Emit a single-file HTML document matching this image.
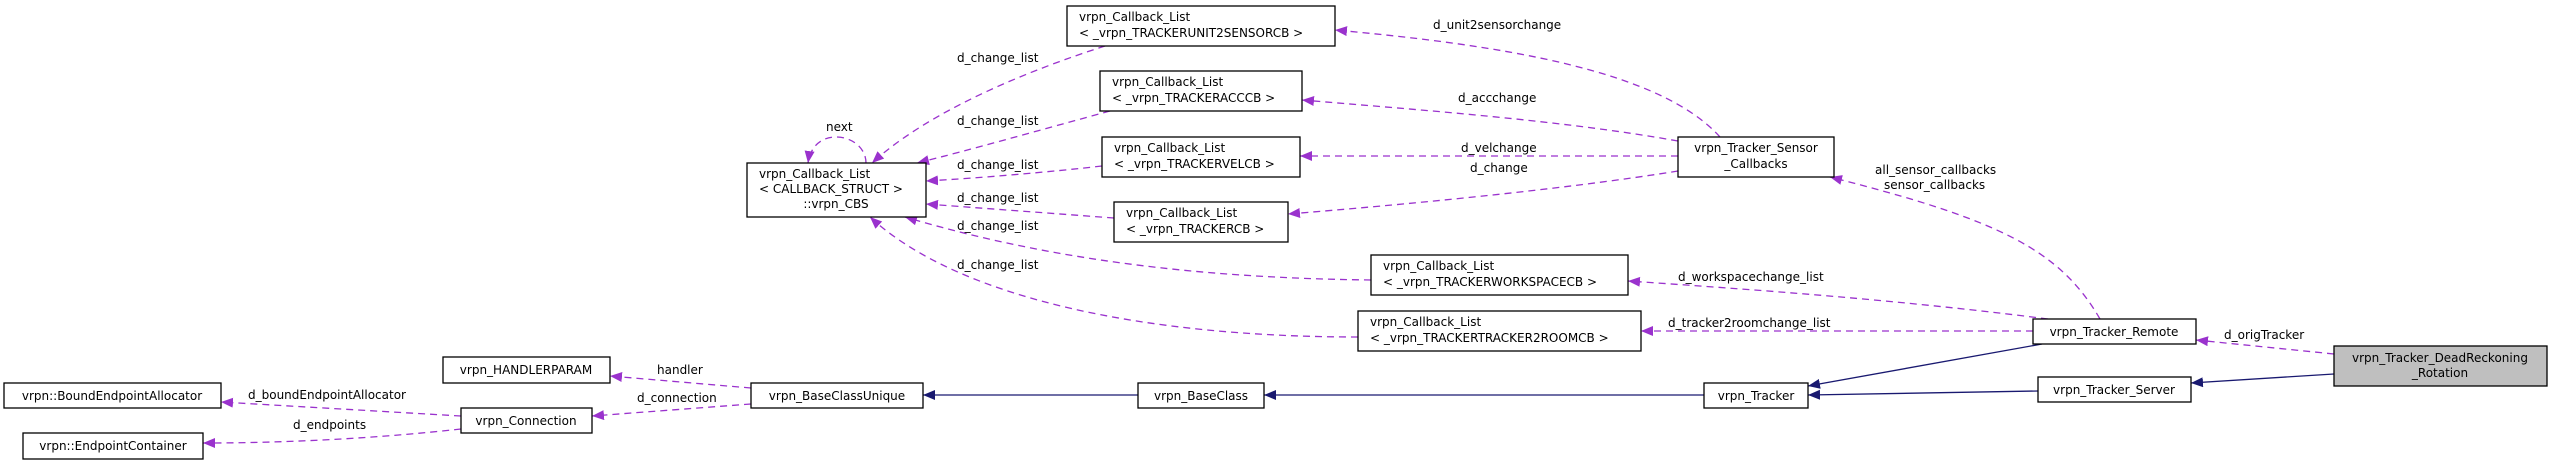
<!DOCTYPE html>
<html><head><meta charset="utf-8"><style>
html,body{margin:0;padding:0;background:#fff;}
svg{display:block;}
text{font-family:"DejaVu Sans","Liberation Sans",sans-serif;font-size:12px;fill:#000;}
.b{fill:#fff;stroke:#000;stroke-width:1.3;}
.p{fill:none;stroke:#9a32cd;stroke-width:1.3;stroke-dasharray:7,5;}
.n{fill:none;stroke:#191970;stroke-width:1.3;}
</style></head><body>
<svg width="2552" height="465" viewBox="0 0 2552 465" xmlns="http://www.w3.org/2000/svg">
<defs>
<marker id="ap" markerUnits="userSpaceOnUse" markerWidth="14" markerHeight="12" refX="12" refY="5" orient="auto"><path d="M0,0 L12,5 L0,10 z" fill="#9a32cd"/></marker>
<marker id="an" markerUnits="userSpaceOnUse" markerWidth="14" markerHeight="12" refX="12" refY="5" orient="auto"><path d="M0,0 L12,5 L0,10 z" fill="#191970"/></marker>
</defs>

<!-- edges purple -->
<path class="p" marker-end="url(#ap)" d="M866,163 C866,148 852,137 836,137 C820,137 810,148 808,163"/>
<text x="826" y="131">next</text>

<path class="p" marker-end="url(#ap)" d="M1105,46 C1030,70 930,110 872,163"/>
<text x="957" y="62">d_change_list</text>
<path class="p" marker-end="url(#ap)" d="M1110,111 C1040,130 970,150 917,163"/>
<text x="957" y="125">d_change_list</text>
<path class="p" marker-end="url(#ap)" d="M1102,166 C1050,172 980,178 926,181"/>
<text x="957" y="169">d_change_list</text>
<path class="p" marker-end="url(#ap)" d="M1114,218 C1060,214 980,208 926,204"/>
<text x="957" y="202">d_change_list</text>
<path class="p" marker-end="url(#ap)" d="M1371,280 C1200,278 1050,260 905,217"/>
<text x="957" y="230">d_change_list</text>
<path class="p" marker-end="url(#ap)" d="M1358,337 C1150,337 960,300 870,217"/>
<text x="957" y="269">d_change_list</text>

<path class="p" marker-end="url(#ap)" d="M1720,137 C1660,70 1500,45 1335,30"/>
<text x="1433" y="29">d_unit2sensorchange</text>
<path class="p" marker-end="url(#ap)" d="M1678,141 C1560,120 1420,110 1302,100"/>
<text x="1458" y="102">d_accchange</text>
<path class="p" marker-end="url(#ap)" d="M1678,156 L1300,156"/>
<text x="1461" y="152">d_velchange</text>
<path class="p" marker-end="url(#ap)" d="M1678,171 C1560,190 1400,205 1288,214"/>
<text x="1470" y="172">d_change</text>

<path class="p" marker-end="url(#ap)" d="M2100,319 C2060,250 2000,220 1830,177"/>
<text x="1875" y="174">all_sensor_callbacks</text>
<text x="1884" y="189">sensor_callbacks</text>
<path class="p" marker-end="url(#ap)" d="M2048,319 C1900,300 1760,290 1628,281"/>
<text x="1678" y="281">d_workspacechange_list</text>
<path class="p" marker-end="url(#ap)" d="M2033,331 L1641,331"/>
<text x="1668" y="327">d_tracker2roomchange_list</text>
<path class="p" marker-end="url(#ap)" d="M2334,354 L2196,340"/>
<text x="2224" y="339">d_origTracker</text>

<path class="p" marker-end="url(#ap)" d="M751,388 L610,376"/>
<text x="657" y="374">handler</text>
<path class="p" marker-end="url(#ap)" d="M751,404 L592,416"/>
<text x="637" y="402">d_connection</text>
<path class="p" marker-end="url(#ap)" d="M461,416 L221,402"/>
<text x="248" y="399">d_boundEndpointAllocator</text>
<path class="p" marker-end="url(#ap)" d="M461,429 C380,438 290,443 203,443"/>
<text x="293" y="429">d_endpoints</text>

<!-- edges blue -->
<path class="n" marker-end="url(#an)" d="M2042,344 L1808,386"/>
<path class="n" marker-end="url(#an)" d="M2038,391 L1808,395"/>
<path class="n" marker-end="url(#an)" d="M2334,374 L2191,383"/>
<path class="n" marker-end="url(#an)" d="M1704,395 L1264,395"/>
<path class="n" marker-end="url(#an)" d="M1138,395 L923,395"/>

<!-- nodes -->
<rect class="b" x="747" y="163" width="179" height="54"/>
<text x="759" y="178">vrpn_Callback_List</text>
<text x="759" y="193">&lt; CALLBACK_STRUCT &gt;</text>
<text x="836" y="208" text-anchor="middle">::vrpn_CBS</text>

<rect class="b" x="1067" y="6" width="268" height="40"/>
<text x="1079" y="21">vrpn_Callback_List</text>
<text x="1079" y="37">&lt; _vrpn_TRACKERUNIT2SENSORCB &gt;</text>

<rect class="b" x="1100" y="71" width="202" height="40"/>
<text x="1112" y="86">vrpn_Callback_List</text>
<text x="1112" y="102">&lt; _vrpn_TRACKERACCCB &gt;</text>

<rect class="b" x="1102" y="137" width="198" height="40"/>
<text x="1114" y="152">vrpn_Callback_List</text>
<text x="1114" y="168">&lt; _vrpn_TRACKERVELCB &gt;</text>

<rect class="b" x="1114" y="202" width="174" height="40"/>
<text x="1126" y="217">vrpn_Callback_List</text>
<text x="1126" y="233">&lt; _vrpn_TRACKERCB &gt;</text>

<rect class="b" x="1371" y="255" width="257" height="40"/>
<text x="1383" y="270">vrpn_Callback_List</text>
<text x="1383" y="286">&lt; _vrpn_TRACKERWORKSPACECB &gt;</text>

<rect class="b" x="1358" y="311" width="283" height="40"/>
<text x="1370" y="326">vrpn_Callback_List</text>
<text x="1370" y="342">&lt; _vrpn_TRACKERTRACKER2ROOMCB &gt;</text>

<rect class="b" x="1678" y="137" width="156" height="40"/>
<text x="1756" y="152" text-anchor="middle">vrpn_Tracker_Sensor</text>
<text x="1756" y="168" text-anchor="middle">_Callbacks</text>

<rect class="b" x="2033" y="319" width="163" height="25"/>
<text x="2114" y="336" text-anchor="middle">vrpn_Tracker_Remote</text>

<rect class="b" x="2038" y="377" width="153" height="25"/>
<text x="2114" y="394" text-anchor="middle">vrpn_Tracker_Server</text>

<rect x="2334" y="346" width="213" height="40" fill="#bfbfbf" stroke="#000" stroke-width="1.3"/>
<text x="2440" y="362" text-anchor="middle">vrpn_Tracker_DeadReckoning</text>
<text x="2440" y="377" text-anchor="middle">_Rotation</text>

<rect class="b" x="1704" y="383" width="104" height="25"/>
<text x="1756" y="400" text-anchor="middle">vrpn_Tracker</text>

<rect class="b" x="1138" y="383" width="126" height="25"/>
<text x="1201" y="400" text-anchor="middle">vrpn_BaseClass</text>

<rect class="b" x="751" y="383" width="172" height="25"/>
<text x="837" y="400" text-anchor="middle">vrpn_BaseClassUnique</text>

<rect class="b" x="443" y="357" width="167" height="26"/>
<text x="526" y="374" text-anchor="middle">vrpn_HANDLERPARAM</text>

<rect class="b" x="461" y="408" width="131" height="25"/>
<text x="526" y="425" text-anchor="middle">vrpn_Connection</text>

<rect class="b" x="4" y="383" width="217" height="25"/>
<text x="112" y="400" text-anchor="middle">vrpn::BoundEndpointAllocator</text>

<rect class="b" x="23" y="433" width="180" height="26"/>
<text x="113" y="450" text-anchor="middle">vrpn::EndpointContainer</text>
</svg>
</body></html>
